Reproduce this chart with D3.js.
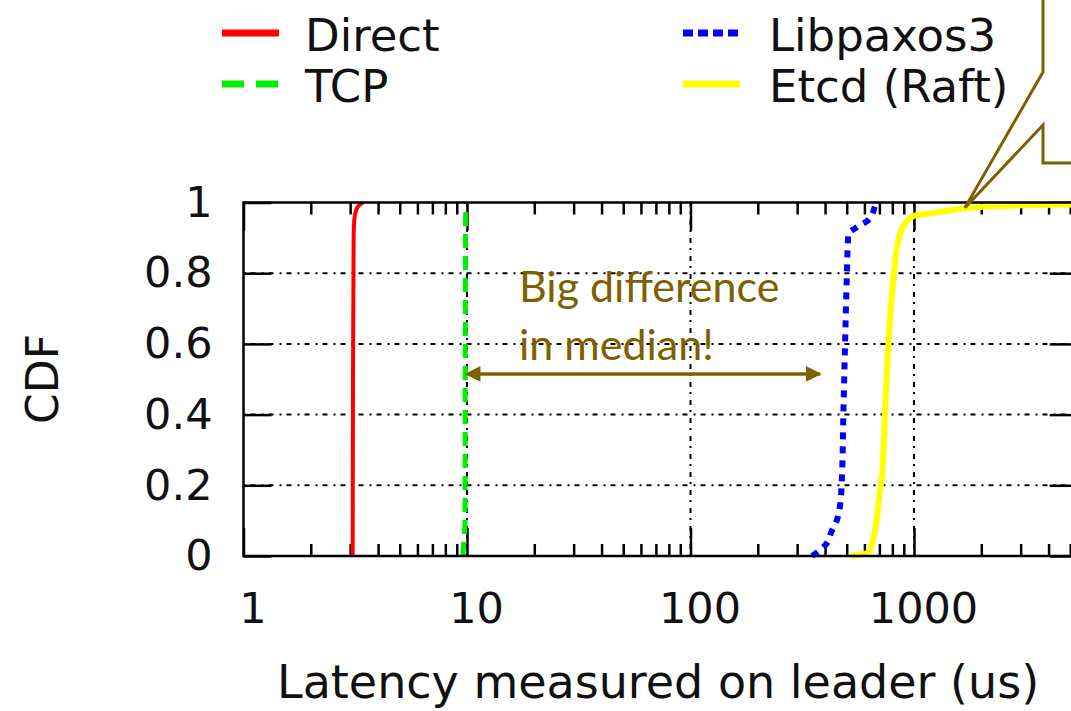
<!DOCTYPE html>
<html>
<head>
<meta charset="utf-8">
<script src="https://cdn.jsdelivr.net/npm/d3@7"></script>
<style>
  body { margin: 0; background: #fff; }
</style>
</head>
<body>
<div id="chart"></div>
<script>
// series: [latency in us, CDF]
var directData = [[3.08,0],[3.09,0.5],[3.11,0.9],[3.13,0.95],[3.2,0.98],[3.3,0.993],[3.42,1.0]];
var tcpData = [[9.6,0],[9.65,0.03],[9.8,0.1],[9.82,0.5],[9.85,0.95],[9.95,1.0]];
var libpaxosData = [[350,0],[400,0.03],[428,0.07],[451,0.10],[466,0.14],[475,0.21],
                    [483,0.40],[491,0.59],[500,0.78],[508,0.91],[554,0.93],[624,0.95],
                    [669,0.99],[676,1.0]];
var etcdData = [[526,0],[630,0.012],[669,0.074],[705,0.187],[717,0.215],[742,0.405],
                [767,0.592],[795,0.733],[822,0.828],[851,0.894],[911,0.941],[993,0.962],
                [1179,0.969],[1691,0.983],[2344,0.990],[4989,0.994],[10000,0.996]];

var seriesNames = ["Direct", "TCP", "Libpaxos3", "Etcd (Raft)"];
var seriesColors = ["#ff0000", "#00ee00", "#0000ff", "#ffff00"];
var seriesDash = [null, "14,8", "7,7", null];
var seriesWidth = [4, 5, 6, 6];

var xMajorTicks = [1, 10, 100, 1000];
var xGridTicks = [10, 100, 1000];
var yTicks = [0, 0.2, 0.4, 0.6, 0.8, 1];
var yGridTicks = [0.2, 0.4, 0.6, 0.8];

// annotation anchors in data units
var arrowFrom = [11.3, 0.515];
var arrowTo = [380, 0.515];
var calloutTip = [1690, 0.985];

var width = 1071, height = 711;
var plotL = 243.5, plotR = 1077.7, plotT = 202.5, plotB = 556;
var font = "'DejaVu Sans', Verdana, sans-serif";
var brown = "#7f6000";

var svg = d3.select("#chart").append("svg")
    .attr("width", width)
    .attr("height", height)
    .style("display", "block");

var xScale = d3.scaleLog()
    .domain([1, 5400])
    .range([plotL, plotR]);

var yScale = d3.scaleLinear()
    .domain([0, 1])
    .range([plotB, plotT]);

var xMinor = xScale.ticks().filter(function(d){ return xMajorTicks.indexOf(d) < 0; });

// grid
var grid = svg.append("g")
    .attr("stroke", "#000")
    .attr("stroke-width", 2)
    .attr("stroke-dasharray", "2,5,5,6");
grid.selectAll(".hg").data(yGridTicks).enter().append("line")
    .attr("x1", plotL).attr("x2", plotR)
    .attr("y1", function(d){ return yScale(d); })
    .attr("y2", function(d){ return yScale(d); });
grid.selectAll(".vg").data(xGridTicks).enter().append("line")
    .attr("y1", plotB).attr("y2", plotT)
    .attr("x1", function(d){ return xScale(d); })
    .attr("x2", function(d){ return xScale(d); });

// axes, ticks pointing inwards
function styleAxis(g){
  g.select(".domain").remove();
  g.selectAll(".tick line").attr("stroke", "#000").attr("stroke-width", 2.5);
  g.selectAll("text").attr("fill", "#111").style("font-family", font).style("font-size", "43px");
}

svg.append("g")
    .attr("transform", "translate(" + plotL + ",0)")
    .call(d3.axisLeft(yScale).tickValues(yTicks).tickSize(-28).tickPadding(31)
      .tickFormat(function(d){ return d === 0 || d === 1 ? d : d3.format(".1f")(d); }))
    .call(styleAxis);

svg.append("g")
    .attr("transform", "translate(" + plotR + ",0)")
    .call(d3.axisRight(yScale).tickValues(yTicks).tickSize(-28).tickFormat(""))
    .call(styleAxis);

svg.append("g")
    .attr("transform", "translate(0," + plotB + ")")
    .call(d3.axisBottom(xScale).tickValues(xMajorTicks).tickSize(-28).tickPadding(36)
      .tickFormat(d3.format("d")))
    .call(styleAxis)
    .selectAll("text").attr("dx", 9);

svg.append("g")
    .attr("transform", "translate(0," + plotB + ")")
    .call(d3.axisBottom(xScale).tickValues(xMinor).tickSize(-12).tickFormat(""))
    .call(styleAxis);

svg.append("g")
    .attr("transform", "translate(0," + plotT + ")")
    .call(d3.axisTop(xScale).tickValues(xMajorTicks).tickSize(-28).tickFormat(""))
    .call(styleAxis);

svg.append("g")
    .attr("transform", "translate(0," + plotT + ")")
    .call(d3.axisTop(xScale).tickValues(xMinor).tickSize(-12).tickFormat(""))
    .call(styleAxis);

// curves
svg.append("clipPath").attr("id", "plotclip")
  .append("rect")
    .attr("x", plotL).attr("y", 0)
    .attr("width", plotR - plotL).attr("height", height);

var line = d3.line()
    .x(function(d){ return xScale(d[0]); })
    .y(function(d){ return yScale(d[1]); })
    .curve(d3.curveMonotoneY);

var allData = [directData, tcpData, libpaxosData, etcdData];
svg.append("g").attr("clip-path", "url(#plotclip)")
  .selectAll("path").data(allData).enter().append("path")
    .attr("d", line)
    .attr("fill", "none")
    .attr("stroke", function(d, i){ return seriesColors[i]; })
    .attr("stroke-width", function(d, i){ return seriesWidth[i]; })
    .attr("stroke-dasharray", function(d, i){ return seriesDash[i]; })
    .attr("stroke-linejoin", "round");

// frame
svg.append("rect")
    .attr("x", plotL).attr("y", plotT)
    .attr("width", plotR - plotL).attr("height", plotB - plotT)
    .attr("fill", "none")
    .attr("stroke", "#000")
    .attr("stroke-width", 2.5);

// axis titles
svg.append("text")
    .attr("transform", "translate(58,379) rotate(-90)")
    .attr("text-anchor", "middle")
    .style("font-family", font)
    .style("font-size", "44px")
    .attr("fill", "#111")
    .text("CDF");

svg.append("text")
    .attr("x", 277).attr("y", 698)
    .style("font-family", font)
    .style("font-size", "46px")
    .attr("fill", "#111")
    .text("Latency measured on leader (us)");

// legend
var legX = [222, 683], legTextX = [305, 769], legY = [33, 84];
var legend = svg.append("g").selectAll("g").data(seriesNames).enter().append("g")
    .attr("transform", function(d, i){
      var col = i < 2 ? 0 : 1, row = i % 2;
      return "translate(" + legX[col] + "," + legY[row] + ")";
    });
legend.append("line")
    .attr("x1", 0).attr("x2", 57)
    .attr("stroke", function(d, i){ return seriesColors[i]; })
    .attr("stroke-width", 7)
    .attr("stroke-dasharray", function(d, i){ return i == 1 ? "22,12" : i == 2 ? "10,5" : null; });
legend.append("text")
    .attr("x", function(d, i){ return i < 2 ? legTextX[0] - legX[0] : legTextX[1] - legX[1]; })
    .attr("y", 18)
    .style("font-family", font)
    .style("font-size", "45px")
    .attr("fill", "#111")
    .text(function(d){ return d; });

// annotation: double arrow and text
var defs = svg.append("defs");
["start", "end"].forEach(function(k){
  defs.append("marker")
      .attr("id", "arrow-" + k)
      .attr("viewBox", "0 0 10 10")
      .attr("refX", k == "end" ? 9 : 1).attr("refY", 5)
      .attr("markerWidth", 5).attr("markerHeight", 4.5)
      .attr("markerUnits", "strokeWidth")
      .attr("orient", "auto-start-reverse")
    .append("path")
      .attr("d", "M0,0 L10,5 L0,10 Z")
      .attr("fill", brown);
});

svg.append("line")
    .attr("x1", xScale(arrowFrom[0])).attr("y1", yScale(arrowFrom[1]))
    .attr("x2", xScale(arrowTo[0])).attr("y2", yScale(arrowTo[1]))
    .attr("stroke", brown)
    .attr("stroke-width", 3.5)
    .attr("marker-start", "url(#arrow-start)")
    .attr("marker-end", "url(#arrow-end)");

var note = svg.append("text")
    .style("font-family", "Lato, 'Open Sans', sans-serif")
    .style("font-size", "43px")
    .attr("fill", brown);
note.append("tspan").attr("x", 519).attr("y", 302).text("Big difference");
note.append("tspan").attr("x", 519).attr("y", 360).text("in median!");

// callout bubble pointing at the Etcd tail
var tipX = xScale(calloutTip[0]), tipY = yScale(calloutTip[1]);
svg.append("path")
    .attr("d", "M1043,-5 L1043,72 L" + tipX + "," + tipY + " L1043,125 L1043,163 L1080,163")
    .attr("fill", "#fff")
    .attr("stroke", brown)
    .attr("stroke-width", 3)
    .attr("stroke-linejoin", "miter");
</script>
</body>
</html>
